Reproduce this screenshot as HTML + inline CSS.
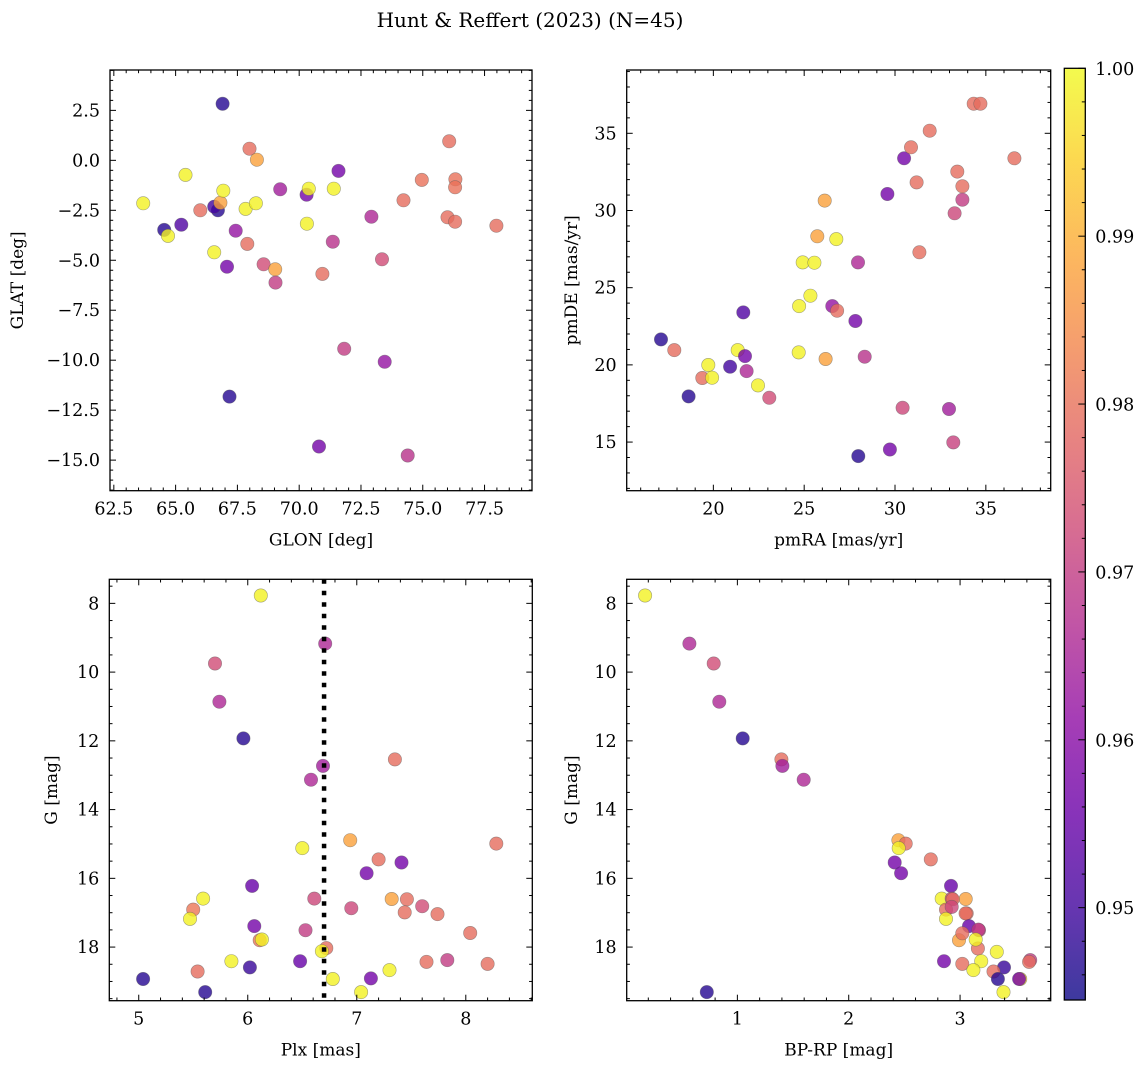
<!DOCTYPE html>
<html><head><meta charset="utf-8">
<style>
html,body{margin:0;padding:0;background:#fff;}
svg{display:block;font-family:"DejaVu Serif","Liberation Serif",serif;}
</style></head>
<body>
<svg id="fig" width="1148" height="1068" viewBox="0 0 1148 1068" xmlns="http://www.w3.org/2000/svg">
<text x="530" y="27" text-anchor="middle" font-size="20">Hunt &amp; Reffert (2023) (N=45)</text>
</svg>
<script>
// ---- data (45 members) ----
const glon = [63.69,64.54,64.69,65.23,65.40,66.0,66.56,66.71,66.56,66.81,66.93,66.9,67.08,67.18,67.43,67.83,67.9,67.99,68.29,68.25,68.56,69.03,69.04,69.23,70.3,70.31,70.39,70.8,70.94,71.4,71.36,71.59,71.82,72.92,73.35,73.46,74.22,74.39,74.96,76.07,76.0,76.32,76.31,76.31,77.98];
const glat = [-2.15,-3.48,-3.78,-3.22,-0.73,-2.5,-4.6,-2.5,-2.32,-2.12,-1.52,2.83,-5.32,-11.82,-3.52,-2.43,-4.18,0.58,0.03,-2.15,-5.2,-5.45,-6.12,-1.45,-1.72,-3.17,-1.42,-14.32,-5.68,-1.42,-4.07,-0.53,-9.43,-2.82,-4.95,-10.08,-2.0,-14.77,-0.98,0.95,-2.85,-0.95,-1.35,-3.07,-3.27];
const probA = [0.999,0.947,0.999,0.952,0.999,0.979,0.999,0.947,0.950,0.988,0.999,0.947,0.957,0.947,0.962,0.999,0.979,0.979,0.988,0.999,0.973,0.988,0.970,0.964,0.957,0.999,0.999,0.957,0.979,0.999,0.968,0.957,0.970,0.966,0.973,0.962,0.979,0.968,0.980,0.979,0.979,0.980,0.980,0.979,0.979];

const pmra = [17.12,17.85,18.64,19.39,19.72,19.93,20.92,21.34,21.65,21.74,21.83,22.46,23.08,24.7,24.72,25.34,24.92,25.56,25.72,26.13,26.18,26.77,26.55,26.81,27.82,27.96,27.98,28.33,29.58,29.72,30.42,30.5,30.88,31.19,31.34,31.91,32.97,33.21,33.28,33.43,33.71,33.71,34.33,34.7,36.57];
const pmde = [21.65,20.96,17.96,19.15,19.99,19.17,19.88,20.96,23.40,20.57,19.6,18.67,17.87,20.81,23.81,24.48,26.64,26.62,28.33,30.64,20.38,28.15,23.81,23.51,22.84,26.64,14.09,20.53,31.07,14.52,17.22,33.38,34.09,31.82,27.29,35.17,17.14,14.98,29.82,32.52,31.57,30.7,36.92,36.92,33.38];
const probB = [0.947,0.979,0.947,0.979,0.999,0.999,0.950,0.999,0.952,0.957,0.966,0.999,0.973,0.999,0.999,0.999,0.999,0.999,0.988,0.988,0.988,0.999,0.962,0.979,0.957,0.966,0.947,0.968,0.957,0.957,0.972,0.957,0.979,0.979,0.979,0.979,0.964,0.971,0.972,0.979,0.979,0.970,0.979,0.979,0.979];

const plx = [6.12,6.71,5.70,5.74,5.96,7.35,6.69,6.58,6.94,8.28,6.50,7.20,7.41,7.09,6.04,5.59,6.61,7.32,7.46,5.50,5.47,6.95,7.44,7.60,7.74,6.06,6.53,8.04,6.11,6.13,6.72,6.68,5.85,6.48,6.02,7.64,7.83,8.20,7.30,5.54,5.04,6.78,7.13,5.61,7.04];
const gmag = [7.77,9.17,9.75,10.86,11.93,12.54,12.73,13.13,14.89,14.99,15.12,15.45,15.54,15.85,16.22,16.59,16.59,16.60,16.61,16.91,17.18,16.87,16.99,16.81,17.04,17.39,17.51,17.59,17.80,17.78,18.03,18.12,18.41,18.41,18.59,18.43,18.38,18.49,18.67,18.71,18.93,18.93,18.91,19.31,19.31];
const probC = [0.999,0.966,0.973,0.966,0.947,0.979,0.964,0.966,0.988,0.979,0.999,0.979,0.957,0.957,0.955,0.999,0.972,0.988,0.979,0.981,0.999,0.972,0.979,0.973,0.979,0.957,0.970,0.979,0.981,0.999,0.979,0.999,0.999,0.955,0.949,0.979,0.970,0.979,0.999,0.979,0.947,0.999,0.957,0.947,0.999];

const bprp = [0.171,0.569,0.787,0.838,1.048,1.395,1.404,1.596,2.446,2.512,2.449,2.737,2.413,2.470,2.919,2.835,2.925,3.051,2.934,2.874,2.874,2.925,3.06,3.17,3.05,3.08,3.165,3.16,2.99,3.14,3.02,3.33,3.19,2.856,3.395,3.02,3.63,3.62,3.12,3.30,3.34,3.54,3.53,0.725,3.39];
const gmag2 = [7.77,9.17,9.75,10.86,11.93,12.54,12.73,13.13,14.89,14.99,15.12,15.45,15.54,15.85,16.22,16.59,16.59,16.60,16.61,16.91,17.18,16.83,17.02,17.51,17.02,17.39,17.49,18.04,17.80,17.78,17.60,18.14,18.41,18.41,18.59,18.49,18.38,18.43,18.67,18.71,18.93,18.93,18.93,19.31,19.31];
const probD = [0.999,0.966,0.973,0.966,0.947,0.979,0.964,0.966,0.988,0.979,0.999,0.979,0.957,0.957,0.955,0.999,0.972,0.988,0.979,0.979,0.999,0.972,0.979,0.970,0.979,0.955,0.970,0.979,0.988,0.999,0.979,0.999,0.999,0.957,0.949,0.979,0.970,0.979,0.999,0.979,0.947,0.995,0.957,0.947,0.999];

const plxLine = [6.70];
const cbTicks = [0.95,0.96,0.97,0.98,0.99,1.00];
const CMIN = 0.9445, CMAX = 1.0;

// ---- helpers ----
const NS = "http://www.w3.org/2000/svg";
const fig = document.getElementById('fig');
function mk(tag, attrs, parent){const e=document.createElementNS(NS,tag);for(const k in attrs)e.setAttribute(k,attrs[k]);(parent||fig).appendChild(e);return e;}
const plasma = ["#0d0887","#41049d","#6a00a8","#8f0da4","#b12a90","#cc4778","#e16462","#f2844b","#fca636","#fcce25","#f0f921"];
function hex(h){return [1,3,5].map(i=>parseInt(h.substr(i,2),16));}
function cmap(v){let t=(v-CMIN)/(CMAX-CMIN);t=Math.max(0,Math.min(1,t));const f=t*10,i=Math.min(9,Math.floor(f)),r=f-i;const a=hex(plasma[i]),b=hex(plasma[i+1]);return 'rgb('+a.map((c,k)=>Math.round(c+(b[k]-c)*r)).join(',')+')';}
function fmt(v,d){const s=Math.abs(v).toFixed(d);return (v<-1e-9?'\u2212':'')+s;}

const TICKFS = 17.5, LABFS = 17;

function panel(cfg){
  const {L,R,T,B,x0,x1,y0,y1,xs,ys,cs,name} = cfg;
  const sx = v => L+(v-x0)/(x1-x0)*(R-L);
  const sy = v => T+(y0-v)/(y0-y1)*(B-T);
  const g = mk('g',{});
  
  
  const pg = mk('g',{},g);
  
  
  for(let i=0;i<xs.length;i++){
    const c = mk('circle',{cx:sx(xs[i]).toFixed(1),cy:sy(ys[i]).toFixed(1),r:6.7,fill:cmap(cs[i]),'fill-opacity':0.8,stroke:'rgba(90,90,90,0.55)','stroke-width':0.6},pg);
    
    
  }
  if(cfg.vline){ for(const v of cfg.vline){
    const l = mk('line',{x1:sx(v),x2:sx(v),y1:T,y2:B,stroke:'#000','stroke-width':4.5,'stroke-dasharray':'4.5 7'},g);
    
    
  }}
  const fr = mk('rect',{x:L,y:T,width:R-L,height:B-T,fill:'none',stroke:'#000','stroke-width':1.3},g);
  
  
  const tk = mk('g',{stroke:'#000','stroke-width':1},g);
  const eps=1e-6;
  const xlo=Math.min(x0,x1), xhi=Math.max(x0,x1), ylo=Math.min(y0,y1), yhi=Math.max(y0,y1);
  for(let v=Math.ceil(xlo/cfg.xminor-eps)*cfg.xminor; v<=xhi+eps; v+=cfg.xminor){
    const isMaj = Math.abs(v/cfg.xmajor-Math.round(v/cfg.xmajor))<1e-6;
    const len = isMaj?6:3.2, x=sx(v);
    mk('line',{x1:x,x2:x,y1:B,y2:B-len},tk); mk('line',{x1:x,x2:x,y1:T,y2:T+len},tk);
  }
  for(let v=Math.ceil(ylo/cfg.yminor-eps)*cfg.yminor; v<=yhi+eps; v+=cfg.yminor){
    const isMaj = Math.abs(v/cfg.ymajor-Math.round(v/cfg.ymajor))<1e-6;
    const len = isMaj?6:3.2, y=sy(v);
    mk('line',{x1:L,x2:L+len,y1:y,y2:y},tk); mk('line',{x1:R,x2:R-len,y1:y,y2:y},tk);
  }
  for(const v of cfg.xticks){
    const t = mk('text',{x:sx(v),y:B+24,'text-anchor':'middle','font-size':TICKFS},g);
    t.textContent = fmt(v,cfg.xd);
    
    
  }
  for(const v of cfg.yticks){
    const t = mk('text',{x:L-10,y:sy(v)+6,'text-anchor':'end','font-size':TICKFS},g);
    t.textContent = fmt(v,cfg.yd);
    
    
  }
  const xl = mk('text',{x:(L+R)/2,y:B+55,'text-anchor':'middle','font-size':LABFS},g);
  xl.textContent = cfg.xlabel;
  
  
  const yx = cfg.ylx, yy=(T+B)/2;
  const yl = mk('text',{x:yx,y:yy,'text-anchor':'middle','font-size':LABFS,transform:'rotate(-90 '+yx+' '+yy+')'},g);
  yl.textContent = cfg.ylabel;
  
  
}

panel({name:'glon-glat',L:110,R:532,T:70,B:490.7,x0:62.345,x1:79.42,y0:4.52,y1:-16.53,xs:glon,ys:glat,cs:probA,
  xminor:0.5,xmajor:2.5,yminor:0.5,ymajor:2.5,xticks:[62.5,65,67.5,70,72.5,75,77.5],yticks:[2.5,0,-2.5,-5,-7.5,-10,-12.5,-15],xd:1,yd:1,
  xlabel:'GLON [deg]',ylabel:'GLAT [deg]',ylx:23});
panel({name:'proper-motion',L:626.7,R:1050.7,T:70,B:490.7,x0:15.23,x1:38.57,y0:39.1,y1:11.85,xs:pmra,ys:pmde,cs:probB,
  xminor:1,xmajor:5,yminor:1,ymajor:5,xticks:[20,25,30,35],yticks:[15,20,25,30,35],xd:0,yd:0,
  xlabel:'pmRA [mas/yr]',ylabel:'pmDE [mas/yr]',ylx:577});
panel({name:'plx-g',L:109.3,R:532.3,T:579.3,B:1000.7,x0:4.73,x1:8.61,y0:7.30,y1:19.56,xs:plx,ys:gmag,cs:probC,vline:plxLine,
  xminor:0.2,xmajor:1,yminor:0.5,ymajor:2,xticks:[5,6,7,8],yticks:[8,10,12,14,16,18],xd:0,yd:0,
  xlabel:'Plx [mas]',ylabel:'G [mag]',ylx:57});
panel({name:'cmd',L:626.7,R:1050.7,T:579.3,B:1000.7,x0:0.006,x1:3.814,y0:7.30,y1:19.56,xs:bprp,ys:gmag2,cs:probD,
  xminor:0.2,xmajor:1,yminor:0.5,ymajor:2,xticks:[1,2,3],yticks:[8,10,12,14,16,18],xd:0,yd:0,
  xlabel:'BP-RP [mag]',ylabel:'G [mag]',ylx:577});

// ---- colorbar ----
(function(){
  const L=1064.3,R=1085.3,T=68.3,B=1000;
  const sy = v => B-(v-CMIN)/(CMAX-CMIN)*(B-T);
  const g = mk('g',{});
  
  
  const defs = mk('defs',{},g);
  const lg = mk('linearGradient',{id:'cbg',x1:0,y1:1,x2:0,y2:0},defs);
  for(let i=0;i<=20;i++){const t=i/20;mk('stop',{offset:t,'stop-color':cmap(CMIN+t*(CMAX-CMIN)),'stop-opacity':0.8},lg);}
  const r = mk('rect',{x:L,y:T,width:R-L,height:B-T,fill:'url(#cbg)',stroke:'#000','stroke-width':1.3},g);
  
  
  for(let v=0.946; v<=1.0001; v+=0.002){
    const y=sy(v), maj=Math.abs(v*100-Math.round(v*100))<1e-6;
    mk('line',{x1:R,x2:R-(maj?7:3.5),y1:y,y2:y,stroke:'#000','stroke-width':1},g);
  }
  for(const v of cbTicks){
    const t = mk('text',{x:R+10,y:sy(v)+6.5,'font-size':TICKFS},g);
    t.textContent = v.toFixed(2);
    
    
  }
})();
</script>
</body></html>
